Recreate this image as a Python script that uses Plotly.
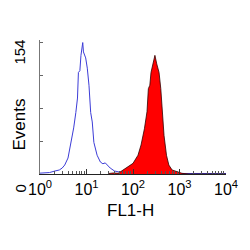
import plotly.graph_objects as go

# Isotype control (blue outline) histogram: FL1-H vs events
blue_x = [1.0, 1.3, 1.6, 2.1, 2.6, 3.0, 3.4, 4.0, 4.7, 5.3, 5.9, 6.4, 6.7, 7.2, 7.6, 8.0,
          8.3, 8.6, 8.9, 9.6, 10.4, 11.3, 12.3, 13.3, 14.4, 16.9, 19.9, 22.5, 25.3, 28.5,
          32.3, 40, 48, 60, 78, 120, 300, 1000, 3000, 10000]
blue_y = [1, 1.5, 1.7, 3.5, 4.7, 7, 10.5, 18.7, 37, 54, 72, 89, 119, 121, 139, 147,
          154, 143, 141, 136, 124, 104, 72, 61, 37, 22, 14, 12, 13, 10,
          7, 3.5, 2.3, 1.5, 1.2, 0.8, 0.6, 0.6, 0.6, 0.6]

# Stained sample (filled red) histogram
red_x = [30, 38, 48, 62, 78, 100, 128, 149, 176, 200, 214, 230, 244, 274, 296, 324,
         363, 396, 427, 465, 525, 590, 694, 888, 1130, 1600, 10000]
red_y = [0.6, 1.2, 0.8, 4.7, 8.5, 12.5, 22, 34, 53, 73, 100, 104, 119, 131, 139, 129,
         119, 100, 73, 45, 22, 10.5, 4.7, 2.7, 0.8, 0, 0]

x_tickvals = [1, 10, 100, 1000, 10000]
x_ticktext = ["10<sup>0</sup>", "10<sup>1</sup>", "10<sup>2</sup>", "10<sup>3</sup>", "10<sup>4</sup>"]
y_max = 154
y_tickvals = [0, 38.5, 77, 115.5, 154]

minor_vals = [k * 10 ** d for d in range(4) for k in range(2, 10)]

narrow = "Liberation Sans Narrow, Arial Narrow, Liberation Sans, Arial, sans-serif"
sans = "Liberation Sans, Arial, sans-serif"

fig = go.Figure()
fig.add_trace(go.Scatter(x=blue_x, y=blue_y, mode="lines",
                         line=dict(color="rgb(60,60,215)", width=1), hoverinfo="skip"))
fig.add_trace(go.Scatter(x=red_x, y=red_y, mode="lines", fill="tozeroy",
                         fillcolor="#ff0000", line=dict(color="#300000", width=0.8),
                         hoverinfo="skip"))

ann_common = dict(xref="paper", yref="paper", showarrow=False,
                  xanchor="center", yanchor="middle")

fig.update_layout(
    width=250, height=250,
    margin=dict(l=40, r=20, t=40, b=76),
    paper_bgcolor="white", plot_bgcolor="white",
    showlegend=False,
    xaxis=dict(type="log", range=[0, 4], tickvals=x_tickvals, ticktext=x_ticktext,
               ticks="inside", ticklen=5, tickcolor="#333", showgrid=False,
               zeroline=False, showline=True, linecolor="#222", linewidth=1,
               tickfont=dict(family=narrow, size=16, color="black"),
               minor=dict(tickvals=minor_vals, ticks="inside", ticklen=3,
                          tickcolor="#555", showgrid=False),
               ticklabelstandoff=1),
    yaxis=dict(range=[0, 157], tickvals=y_tickvals, showticklabels=False,
               ticks="inside", ticklen=3, tickcolor="#666", showgrid=False,
               zeroline=False, showline=True, linecolor="#777", linewidth=1),
    annotations=[
        dict(text="154", x=-0.11, y=0.91, textangle=-90,
             font=dict(family=sans, size=15, color="black"), **ann_common),
        dict(text="Events", x=-0.11, y=0.366, textangle=-90,
             font=dict(family=sans, size=17, color="black"), **ann_common),
        dict(text="0", x=-0.11, y=-0.112, textangle=-90,
             font=dict(family=sans, size=15, color="black"), **ann_common),
        dict(text="FL1-H", x=0.489, y=-0.269,
             font=dict(family=narrow, size=17, color="black"), **ann_common),
    ],
)

fig.write_html("out.html")
